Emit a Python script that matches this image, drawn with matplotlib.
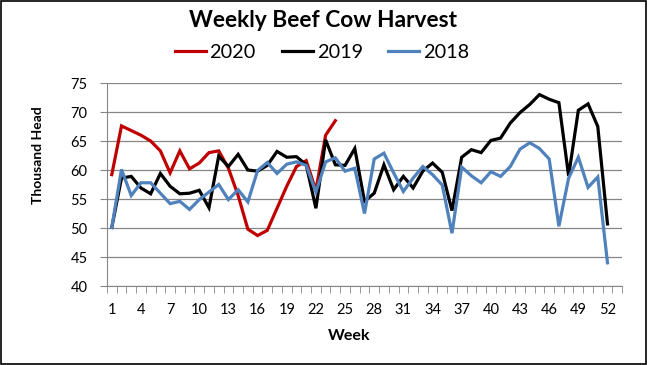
import matplotlib
matplotlib.use("Agg")
import matplotlib.pyplot as plt
from matplotlib.patches import Rectangle
import numpy as np

plt.rcParams['font.family'] = ['Lato', 'DejaVu Sans']

weeks = list(range(1, 53))
cow_2020 = [59.2, 67.6, 66.8, 66.0, 65.0, 63.3, 59.5, 63.3, 60.2, 61.2, 63.0, 63.3,
            60.3, 55.6, 49.8, 48.7, 49.6, 53.4, 57.2, 60.6, 61.6, 56.5, 66.0, 68.5]
cow_2019 = [50.1, 58.6, 58.9, 56.9, 55.9, 59.4, 57.2, 55.9, 56.0, 56.5, 53.5, 62.4,
            60.6, 62.7, 60.0, 59.8, 60.8, 63.2, 62.2, 62.3, 60.9, 53.4, 65.2, 60.9,
            60.8, 63.7, 54.6, 56.0, 60.9, 56.6, 58.9, 56.9, 59.8, 61.2, 59.6, 53.0,
            62.2, 63.5, 63.0, 65.1, 65.5, 68.1, 69.9, 71.3, 73.0, 72.2, 71.6, 59.0,
            70.3, 71.4, 67.5, 50.7]
cow_2018 = [50.1, 60.1, 55.6, 57.8, 57.8, 56.0, 54.2, 54.6, 53.2, 54.9, 56.2, 57.5,
            54.9, 56.6, 54.5, 59.9, 61.3, 59.4, 61.0, 61.4, 60.8, 56.2, 61.4, 62.1,
            59.8, 60.3, 52.5, 61.9, 62.9, 59.5, 56.3, 58.6, 60.6, 59.2, 57.4, 49.1,
            60.5, 59.0, 57.8, 59.7, 58.9, 60.6, 63.6, 64.7, 63.7, 61.9, 50.3, 58.6,
            62.2, 57.0, 58.8, 44.0]
labels = ['2020', '2019', '2018']
colors = ['#C00000', '#000000', '#4F81BD']

fig = plt.figure(figsize=(6.48, 3.65), dpi=100)
ax = fig.add_axes([0.165, 0.2164, 0.795, 0.5562])

series = [cow_2020, cow_2019, cow_2018]
for i, (vals, lab, col) in enumerate(zip(series, labels, colors)):
    ax.plot(weeks[:len(vals)], vals, color=col, lw=2.3, label=lab, zorder=3 + i,
            solid_joinstyle='miter')

ax.set_xlim(0.5, 53.5)
ax.set_ylim(40, 75)
ax.set_yticks(range(40, 76, 5))
ax.set_xticks(range(1, 53, 3))
ax.set_xticks(np.arange(0.5, 54, 1), minor=True)
ax.tick_params(axis='x', which='major', length=0, labelsize=10.5, pad=12)
ax.tick_params(axis='x', which='minor', length=5, color='#868686', direction='out')
ax.tick_params(axis='y', length=5, color='#868686', labelsize=10.5, pad=9)
ax.grid(axis='y', color='#868686', lw=0.9)
for s in ['top', 'right']:
    ax.spines[s].set_visible(False)
for s in ['left', 'bottom']:
    ax.spines[s].set_color('#868686')
ax.set_axisbelow(True)

ax.set_xlabel('Week', fontsize=11.5, fontweight='bold')
ax.xaxis.set_label_coords(0.47, -0.212)
ax.set_ylabel('Thousand Head', fontsize=10, fontweight='bold')
ax.yaxis.set_label_coords(-0.122, 0.645)

fig.text(0.498, 0.944, 'Weekly Beef Cow Harvest', ha='center', va='center',
         fontsize=16.4, fontweight='bold')
fig.legend(loc='center', bbox_to_anchor=(0.497, 0.856), ncol=3, frameon=False,
           fontsize=14.3, handlelength=1.56, handletextpad=0.2, columnspacing=1.3,
           borderpad=0, borderaxespad=0)

fig.add_artist(Rectangle((0.002, 0.004), 0.995, 0.992, transform=fig.transFigure,
                         fill=False, ec='black', lw=1.2))

fig.savefig('out.png', dpi=100)
